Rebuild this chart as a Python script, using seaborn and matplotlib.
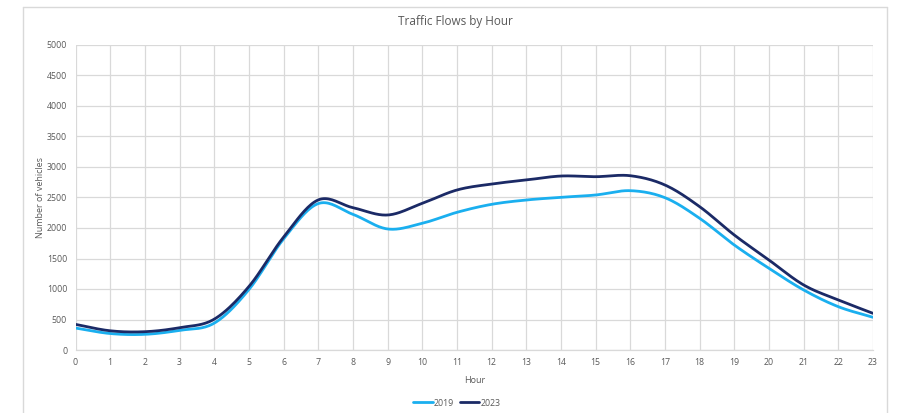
import numpy as np
import pandas as pd
import matplotlib
matplotlib.use("Agg")
import matplotlib.pyplot as plt
import seaborn as sns
from matplotlib.lines import Line2D

# Hourly traffic counts
hours = list(range(24))
flows_2019 = [360, 270, 257, 322, 440, 990, 1820, 2400, 2224, 1984, 2077, 2257,
              2388, 2459, 2503, 2541, 2612, 2497, 2159, 1721, 1339, 984, 710, 536]
flows_2023 = [420, 315, 300, 366, 505, 1040, 1850, 2460, 2333, 2213, 2404, 2623,
              2721, 2787, 2852, 2841, 2857, 2705, 2350, 1885, 1475, 1066, 820, 601]
series_names = ["2019", "2023"]
series_colors = ["#1AAFEF", "#1B2A66"]
y_ticks = list(range(0, 5001, 500))


def smooth_curve(x, y, steps=20):
    """Catmull-Rom spline through the points (smoothed line rendering)."""
    x = np.asarray(x, float)
    y = np.asarray(y, float)
    px = np.concatenate([[2 * x[0] - x[1]], x, [2 * x[-1] - x[-2]]])
    py = np.concatenate([[2 * y[0] - y[1]], y, [2 * y[-1] - y[-2]]])
    xs, ys = [], []
    t = np.linspace(0, 1, steps, endpoint=False)
    for i in range(1, len(px) - 2):
        p0, p1, p2, p3 = px[i - 1], px[i], px[i + 1], px[i + 2]
        q0, q1, q2, q3 = py[i - 1], py[i], py[i + 1], py[i + 2]
        b1x, b1y = p1 + (p2 - p0) / 6, q1 + (q2 - q0) / 6
        b2x, b2y = p2 - (p3 - p1) / 6, q2 - (q3 - q1) / 6
        mt = 1 - t
        xs.append(mt**3 * p1 + 3 * mt**2 * t * b1x + 3 * mt * t**2 * b2x + t**3 * p2)
        ys.append(mt**3 * q1 + 3 * mt**2 * t * b1y + 3 * mt * t**2 * b2y + t**3 * q2)
    xs.append([x[-1]])
    ys.append([y[-1]])
    return np.concatenate(xs), np.concatenate(ys)


frames = []
for name, vals in zip(series_names, [flows_2019, flows_2023]):
    sx, sy = smooth_curve(hours, vals)
    frames.append(pd.DataFrame({"Hour": sx, "Vehicles": sy, "Year": name}))
df = pd.concat(frames, ignore_index=True)

sns.set_theme(style="white")
plt.rcParams["font.family"] = ["Open Sans", "DejaVu Sans"]
text_color = "#595959"

fig = plt.figure(figsize=(8.97, 4.13), dpi=100)
ax = fig.add_axes([75.5 / 897, 1 - 350 / 413, (873 - 75.5) / 897, (350 - 45) / 413])

sns.lineplot(data=df, x="Hour", y="Vehicles", hue="Year", hue_order=series_names,
             palette=series_colors, linewidth=2.0, sort=False, estimator=None,
             legend=False, ax=ax)

ax.set_xlim(0, 23)
ax.set_ylim(0, 5000)
ax.set_xticks(hours)
ax.set_yticks(y_ticks)
ax.tick_params(axis="both", length=0, labelsize=6.3, colors=text_color, pad=6)
ax.grid(True, color="#D9D9D9", linewidth=0.9)
ax.set_axisbelow(True)
for side in ["top", "right", "left"]:
    ax.spines[side].set_visible(False)
ax.spines["bottom"].set_color("#D9D9D9")
ax.spines["bottom"].set_linewidth(0.9)

ax.set_xlabel("Hour", fontsize=6.5, color=text_color, labelpad=6)
ax.set_ylabel("Number of vehicles", fontsize=6.5, color=text_color, labelpad=1)

fig.text(455 / 897, 1 - 22 / 413, "Traffic Flows by Hour", ha="center", va="center",
         fontsize=8.5, color=text_color)

handles = [Line2D([0], [0], color=c, linewidth=2.0) for c in series_colors]
fig.legend(handles, series_names, loc="center", bbox_to_anchor=(457 / 897, 1 - 403 / 413),
           ncol=2, frameon=False, fontsize=6.3, labelcolor=text_color,
           handlelength=2.2, handletextpad=0.15, columnspacing=0.7)

# chart area border
border_color = "#D9D9D9"
x0, x1, y0 = 23 / 897, 887 / 897, 1 - 7 / 413
fig.add_artist(Line2D([x0, x0], [0, y0], color=border_color, linewidth=1, transform=fig.transFigure))
fig.add_artist(Line2D([x1, x1], [0, y0], color=border_color, linewidth=1, transform=fig.transFigure))
fig.add_artist(Line2D([x0, x1], [y0, y0], color=border_color, linewidth=1, transform=fig.transFigure))

fig.savefig("out.png", dpi=100, facecolor="white")
